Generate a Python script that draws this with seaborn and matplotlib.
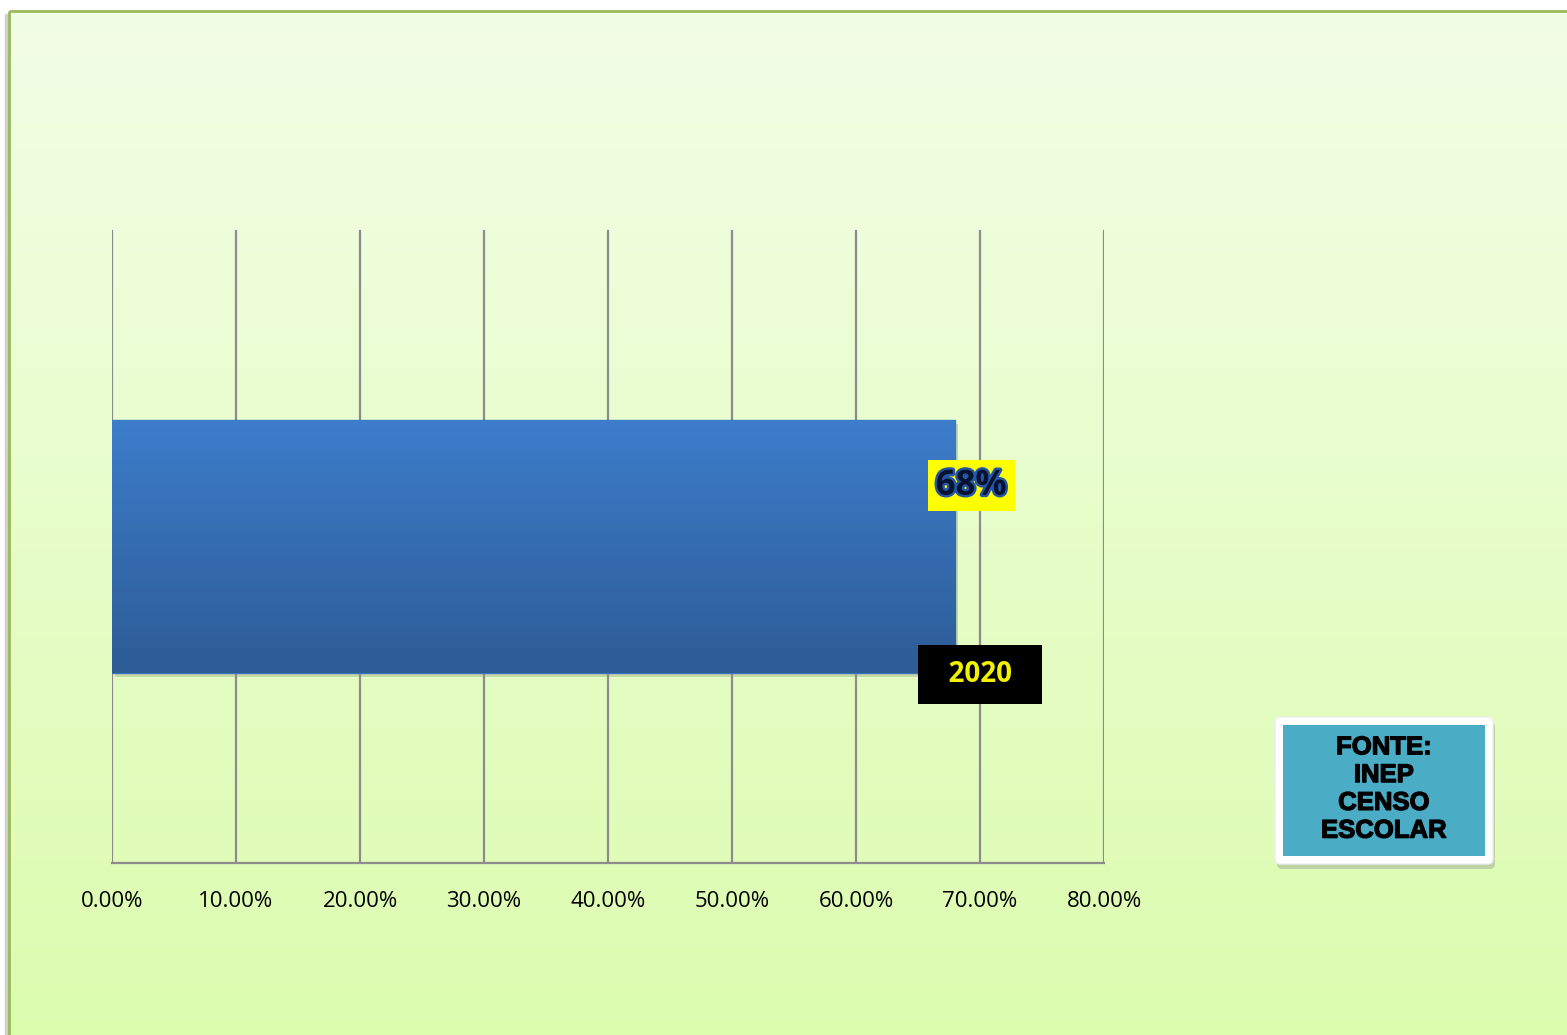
import numpy as np
import seaborn as sns
import matplotlib.pyplot as plt
from matplotlib.patches import Rectangle, FancyBboxPatch
from matplotlib.colors import LinearSegmentedColormap
from matplotlib.transforms import ScaledTranslation
import matplotlib.patheffects as pe

anos = ['2020']
valores = [0.68]
rotulos = ['68%']
ticks = [0.0, 0.1, 0.2, 0.3, 0.4, 0.5, 0.6, 0.7, 0.8]
fonte = 'FONTE:\nINEP\nCENSO\nESCOLAR'

sns.set_style('white')
plt.rcParams['font.family'] = ['Open Sans', 'DejaVu Sans']

W, H = 1567, 1035
fig = plt.figure(figsize=(W / 100, H / 100), dpi=100)

# fundo com gradiente verde claro
bg = fig.add_axes([0, 0, 1, 1], zorder=0)
bg.set_xlim(0, W)
bg.set_ylim(H, 0)
bg.axis('off')
bg.add_patch(Rectangle((0, 0), W, H, color='white', zorder=0))
grad = np.linspace(0, 1, 256).reshape(-1, 1)
cm_bg = LinearSegmentedColormap.from_list('bg', ['#f3fee6', '#dcfcae'])
bg.imshow(grad, cmap=cm_bg, extent=[9, W + 5, H + 5, 11], aspect='auto', zorder=1)
bg.add_patch(Rectangle((5, 14), 4, H, color='#d0d0d0', zorder=1))
bg.add_patch(Rectangle((9, 11), W + 5, H + 5, fill=False, ec='#9bbb59', lw=2, zorder=2))

# caixa da fonte
bg.add_patch(FancyBboxPatch((1277, 722), 218, 147, boxstyle='round,pad=0,rounding_size=5',
                            fc='#a9b99a', ec='none', alpha=0.6, zorder=3))
bg.add_patch(FancyBboxPatch((1275, 717), 218, 147, boxstyle='round,pad=0,rounding_size=5',
                            fc='white', ec='#eeeeee', zorder=4))
bg.add_patch(Rectangle((1283, 725), 202, 131, fc='#4bacc6', ec='none', zorder=5))
bg.text(1384, 789, fonte, ha='center', va='center', fontsize=18.5, fontweight='bold',
        family='Liberation Sans', linespacing=1.2, color='black', zorder=6,
        path_effects=[pe.withStroke(linewidth=0.9, foreground='black')])

# grafico
ax = fig.add_axes([112 / W, 1 - 863 / H, (1104 - 112) / W, (863 - 230) / H], zorder=1)
ax.patch.set_alpha(0)
sns.barplot(x=valores, y=anos, orient='h', width=0.4, color='#3a76c0', ax=ax, zorder=3)

bar = ax.patches[0]
x0, y0 = bar.get_x(), bar.get_y()
bw, bh = bar.get_width(), bar.get_height()
bar.set_facecolor('none')
bar.set_edgecolor('#3a74bd')
bar.set_linewidth(1)

# sombra da barra
ax.add_patch(Rectangle((x0, y0), bw, bh, fc='#8a9a70', ec='none', alpha=0.35, zorder=2,
                       transform=ax.transData + ScaledTranslation(3 / 100, -4 / 100, fig.dpi_scale_trans)))
cm_bar = LinearSegmentedColormap.from_list('bar', ['#3d7dcb', '#2d5c96'])
im = ax.imshow(grad, cmap=cm_bar, extent=[x0, x0 + bw, y0 + bh, y0], aspect='auto', zorder=3)
im.set_clip_path(bar)

ax.set_xlim(0, 0.8)
ax.set_ylim(0.5, -0.5)
ax.set_xticks(ticks)
ax.set_xticklabels([f'{t * 100:.2f}%' for t in ticks], fontsize=16, color='black')
ax.set_yticks([])
ax.set_xlabel('')
ax.set_ylabel('')
ax.xaxis.grid(True, color='#8c8c8c', lw=1.6)
ax.set_axisbelow(True)
for s in ['top', 'right', 'left']:
    ax.spines[s].set_visible(False)
ax.spines['bottom'].set_color('#8c8c8c')
ax.spines['bottom'].set_linewidth(1.6)
ax.tick_params(axis='x', length=7, width=1.6, color='#8c8c8c', pad=13, direction='out')

# rotulo de valor
for v, r in zip(valores, rotulos):
    ax.text(v + 0.013, -0.096, r, ha='center', va='center', fontsize=25, fontweight='bold',
            color='#06122e', zorder=5,
            path_effects=[pe.withStroke(linewidth=3.5, foreground='#2456a6')],
            bbox=dict(boxstyle='square,pad=0.22', fc='yellow', ec='none'))

# rotulo da categoria
ax.text(0.7, 0.202, '  ' + anos[0] + '  ', ha='center', va='center', fontsize=20,
        fontweight='bold', color='#f2f200', zorder=5,
        bbox=dict(boxstyle='square,pad=0.55', fc='black', ec='none'))

fig.savefig('out.png', dpi=100)
